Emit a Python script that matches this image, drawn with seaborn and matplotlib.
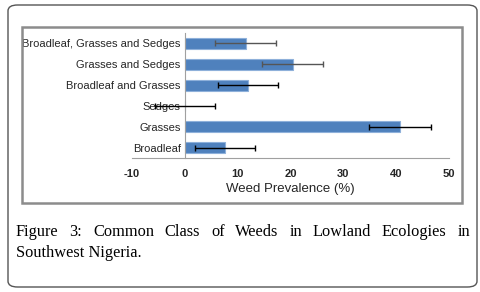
#Import Libraries
import numpy as np
import pandas as pd
import matplotlib
matplotlib.use("Agg")
import matplotlib.pyplot as plt
import seaborn as sns
from matplotlib.patches import FancyBboxPatch, Rectangle

#Data
weed_class = ["Broadleaf", "Grasses", "Sedges", "Broadleaf and Grasses",
              "Grasses and Sedges", "Broadleaf, Grasses and Sedges"]
prevalence = [7.6, 40.7, 0.0, 11.9, 20.4, 11.5]
error = [5.7, 5.8, 5.7, 5.7, 5.8, 5.7]
x_ticks = [-10, 0, 10, 20, 30, 40, 50]
caption_line1 = ["Figure", "3:", "Common", "Class", "of", "Weeds", "in",
                 "Lowland", "Ecologies", "in"]
caption_line2 = "Southwest Nigeria."

df = pd.DataFrame({"Class": weed_class, "Prevalence": prevalence, "Error": error})
order = weed_class[::-1]

#Figure
sns.set_style("white")
plt.rcParams['font.family'] = ['Liberation Sans', 'DejaVu Sans']

W, H = 480, 292
fig = plt.figure(figsize=(W / 100, H / 100), dpi=100)

def px(x0, y0, x1, y1):
    # pixel box -> figure fraction [left, bottom, width, height]
    return [x0 / W, 1 - y1 / H, (x1 - x0) / W, (y1 - y0) / H]

#Outer rounded frame
ob = px(8, 5, 477, 287)
fig.patches.append(FancyBboxPatch((ob[0], ob[1]), ob[2], ob[3],
                                  boxstyle="round,pad=0,rounding_size=0.02",
                                  transform=fig.transFigure, fill=False,
                                  edgecolor="#555555", linewidth=1.0))
#Inner chart frame
ib = px(22, 27, 462, 203)
fig.patches.append(Rectangle((ib[0], ib[1]), ib[2], ib[3], transform=fig.transFigure,
                             fill=False, edgecolor="#8c8c8c", linewidth=1.8))

ax = fig.add_axes(px(132, 33, 449, 158))

sns.barplot(data=df, x="Prevalence", y="Class", order=order, orient="h",
            color="#4F81BD", saturation=1, width=0.52, edgecolor="#8EB0DA",
            linewidth=0.8, ax=ax)

#Error bars
pos = {c: i for i, c in enumerate(order)}
for c, v, e in zip(weed_class, prevalence, error):
    col = "#555555" if "and Sedges" in c else "black"
    ax.errorbar(v, pos[c], xerr=e, fmt="none", ecolor=col, elinewidth=1.0,
                capsize=2.5, capthick=1.0, zorder=3)

ax.set_xlim(-10, 50)
ax.set_ylim(5.5, -0.5)
ax.set_xticks(x_ticks)
ax.set_xticklabels([str(t) for t in x_ticks], fontsize=8, fontweight="bold")
ax.set_xlabel("Weed Prevalence (%)", fontsize=9.5, labelpad=3)
ax.set_ylabel("")
ax.tick_params(axis="y", length=0, labelsize=8.0, pad=3)
ax.tick_params(axis="x", length=3, color="#a0a0a0", pad=5, direction="out")
ax.set_yticks(np.arange(-0.5, 6, 1), minor=True)
ax.tick_params(axis="y", which="minor", length=3, color="#a0a0a0", direction="out")

ax.spines["left"].set_position(("data", 0))
ax.spines["left"].set_color("#a0a0a0")
ax.spines["bottom"].set_color("#a0a0a0")
ax.spines["top"].set_visible(False)
ax.spines["right"].set_visible(False)
ax.set_facecolor("none")

#Caption, first line justified
serif = ['Liberation Serif', 'DejaVu Serif']
fig.canvas.draw()
renderer = fig.canvas.get_renderer()
words = []
for w in caption_line1:
    t = fig.text(0, 0, w, family=serif, fontsize=11.8, color="black", va="baseline")
    words.append(t)
widths = [t.get_window_extent(renderer).width for t in words]
x_left, x_right = 16, 470
gap = (x_right - x_left - sum(widths)) / (len(words) - 1)
x = x_left
for t, w in zip(words, widths):
    t.set_position((x / W, 1 - 236 / H))
    x += w + gap
fig.text(x_left / W, 1 - 257 / H, caption_line2, family=serif, fontsize=11.8,
         color="black", va="baseline")

fig.savefig("out.png", dpi=100)
